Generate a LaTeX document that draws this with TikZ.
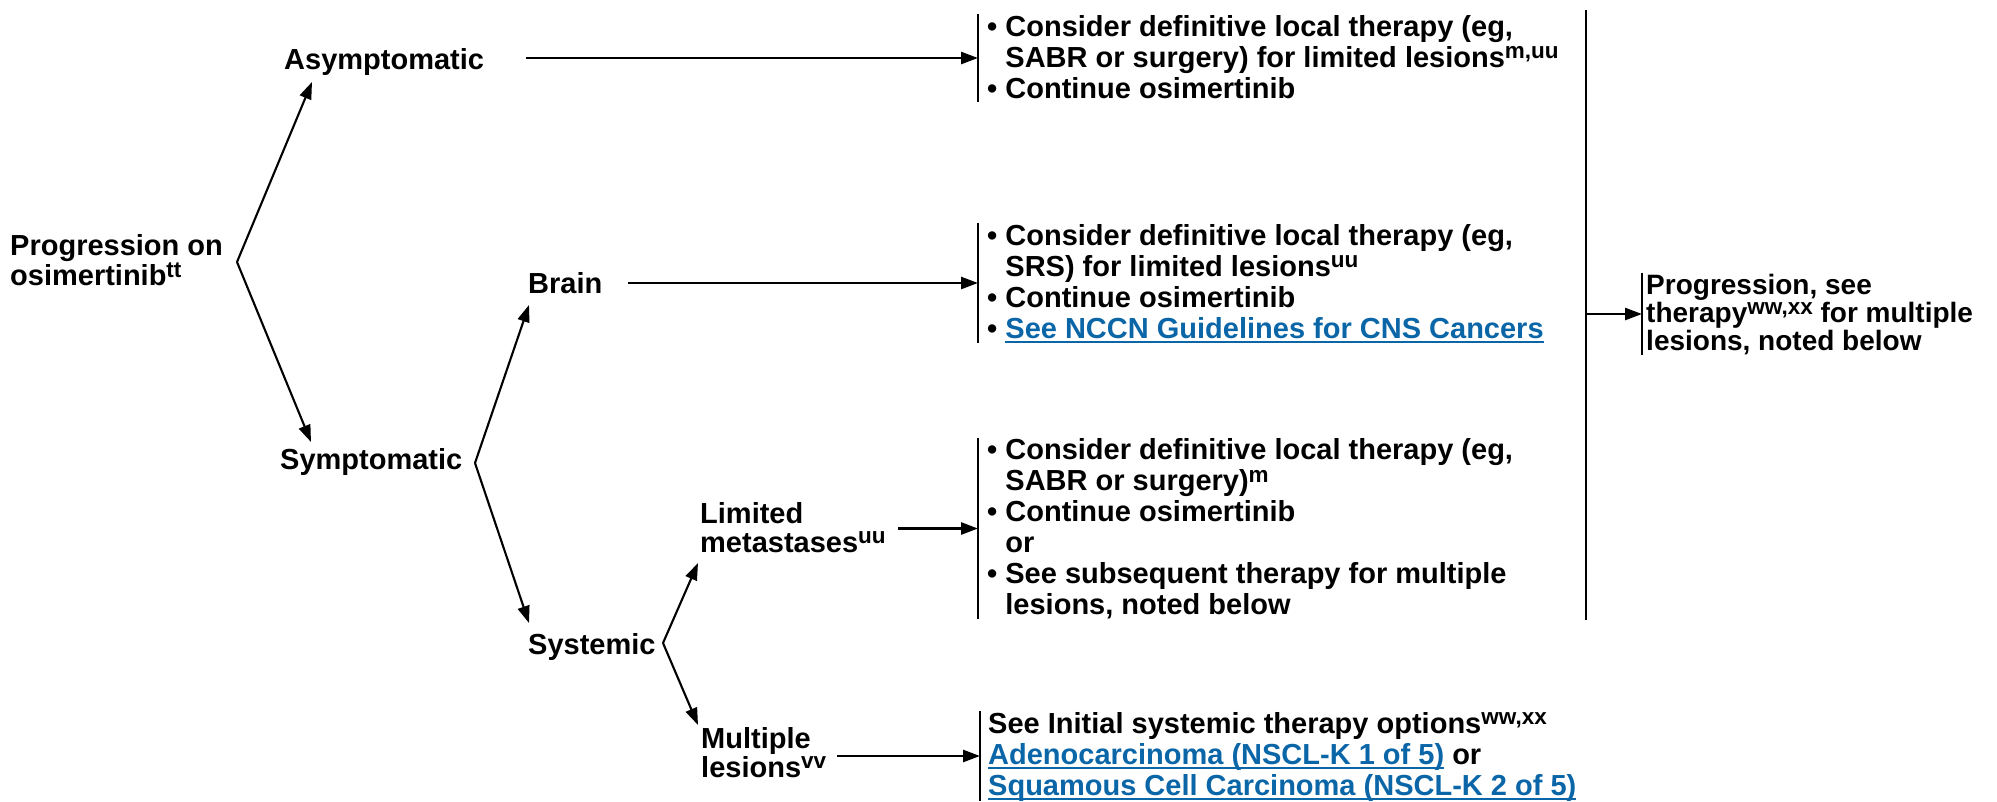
\documentclass[tikz,border=0pt]{standalone}
\usepackage{fontspec}
\setmainfont{Liberation Sans}
\usetikzlibrary{arrows.meta}
\definecolor{linkblue}{HTML}{0B66A8}
\newcommand{\fs}{\rule{0pt}{22pt}}
\newcommand{\ds}{\rule[-4pt]{0pt}{4pt}}
\newcommand{\sups}[1]{\raisebox{8.5pt}{\fontsize{22.5pt}{22pt}\selectfont #1}}
\newcommand{\lnk}[1]{\textcolor{linkblue}{\setbox0\hbox{#1}\rlap{\rule[-5pt]{\wd0}{2pt}}\box0}}
\newcommand{\hng}{\hphantom{• }}
\begin{document}
\begin{tikzpicture}[x=1pt,y=-1pt,
  lbl/.style={anchor=north west, inner sep=0pt, align=left, font=\fontsize{29pt}{29pt}\selectfont\bfseries},
  box/.style={anchor=west, inner xsep=9pt, inner ysep=0pt, align=left, font=\fontsize{29pt}{31pt}\selectfont\bfseries},
  bar/.style={line width=2.2pt},
  arr/.style={line width=2.6pt, -{Triangle[length=17pt,width=12pt]}},
  darr/.style={line width=2.1pt, -{Triangle[length=17pt,width=12pt]}}]
\useasboundingbox (0,0) rectangle (1997,801);

% labels
\node[lbl] (prog) at (10,233) {\fs Progression on\\osimertinib\sups{tt}};
\node[lbl] (asym) at (284,47) {\fs Asymptomatic};
\node[lbl] (symp) at (280,447) {\fs Symptomatic};
\node[lbl] (brain) at (528,271) {\fs Brain};
\node[lbl] (syst) at (528,632) {\fs Systemic};
\node[lbl] (lim) at (700,501) {\fs Limited\\metastases\sups{uu}};
\node[lbl] (mult) at (701,726) {\fs Multiple\\lesions\sups{vv}};

% boxes
\node[box] (b1) at (978,58) {\fs• Consider definitive local therapy (eg,\\\hng SABR or surgery) for limited lesions\sups{m,uu}\\• Continue osimertinib\ds};
\node[box] (b2) at (978,283) {\fs• Consider definitive local therapy (eg,\\\hng SRS) for limited lesions\sups{uu}\\• Continue osimertinib\\• \lnk{See NCCN Guidelines for CNS Cancers}};
\node[box] (b3) at (978,528.5) {\fs• Consider definitive local therapy (eg,\\\hng SABR or surgery)\sups{m}\\• Continue osimertinib\\\hng or\\• See subsequent therapy for multiple\\\hng lesions, noted below\ds};
\node[box, inner xsep=8pt] (b4) at (980,756) {\fs See Initial systemic therapy options\sups{ww,xx}\\\lnk{Adenocarcinoma (NSCL-K 1 of 5)} or\\\lnk{Squamous Cell Carcinoma (NSCL-K 2 of 5)}};
\node[box, inner xsep=4pt, font=\fontsize{28pt}{28pt}\selectfont\bfseries] (b5) at (1642,314) {\fs Progression, see\\therapy\sups{ww,xx} for multiple\\lesions, noted below\ds};

\foreach \b in {b1,b2,b3,b4,b5} \draw[bar] (\b.north west) -- (\b.south west);

% branch points and arrow tips
\coordinate (pv) at (237,262);
\coordinate (sv) at (475,463);
\coordinate (yv) at (663,643);
\coordinate (ta) at (312,82);
\coordinate (ts) at (311,442);
\coordinate (tb) at (529,305);
\coordinate (tsy) at (529,623);
\coordinate (tl) at (698,563);
\coordinate (tm) at (698,725);
\draw[darr] (pv) -- (ta);
\draw[darr] (pv) -- (ts);
\draw[darr] (sv) -- (tb);
\draw[darr] (sv) -- (tsy);
\draw[darr] (yv) -- (tl);
\draw[darr] (yv) -- (tm);

% horizontal arrows
\coordinate (s1) at (526,58);
\coordinate (s2) at (628,283);
\coordinate (s3) at (898,528.5);
\coordinate (s4) at (837,756);
\draw[arr] (s1) -- (b1.west);
\draw[arr] (s2) -- (b2.west);
\draw[arr] (s3) -- (b3.west);
\draw[arr] (s4) -- (b4.west);

% collector
\coordinate (vt) at (1586,10);
\coordinate (vb) at (1586,620);
\draw[bar] (vt) -- (vb);
\draw[arr] (vt |- b5.west) -- (b5.west);
\end{tikzpicture}
\end{document}
